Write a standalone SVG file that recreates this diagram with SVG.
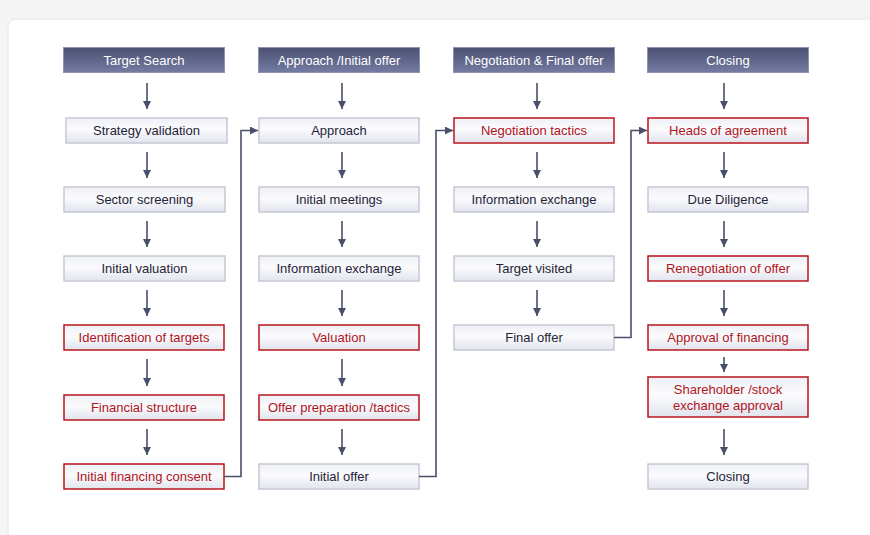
<svg xmlns="http://www.w3.org/2000/svg" width="870" height="535" viewBox="0 0 870 535">
<defs>
<linearGradient id="hg" x1="0" y1="0" x2="0" y2="1">
<stop offset="0" stop-color="#4b5072"/>
<stop offset="1" stop-color="#757ca2"/>
</linearGradient>
<linearGradient id="bg" x1="0" y1="0" x2="0" y2="1">
<stop offset="0" stop-color="#eef0f6"/>
<stop offset="0.45" stop-color="#fbfbfd"/>
<stop offset="1" stop-color="#e1e4ee"/>
</linearGradient>
<marker id="ah" viewBox="0 0 8 8" refX="8" refY="4" markerWidth="8" markerHeight="8" markerUnits="userSpaceOnUse" orient="auto">
<path d="M0,0 L8,4 L0,8 Z" fill="#4a4f69"/>
</marker>
<style>
.hdr rect{fill:url(#hg);stroke:#8c92b0;stroke-width:1}
.hdr text{fill:#ffffff;font-family:"Liberation Sans",Arial,sans-serif;font-size:13px;text-anchor:middle}
.box rect{fill:url(#bg);stroke:#c6c8d4;stroke-width:1.5}
.box text{fill:#1f2438;font-family:"Liberation Sans",Arial,sans-serif;font-size:13px;text-anchor:middle}
.red rect{stroke:#b8161e;stroke-width:1.5}
.red text{fill:#b0141c}
.conn path{fill:none;stroke:#4a4f69;stroke-width:1.6;marker-end:url(#ah)}
</style>
</defs>
<rect x="0" y="0" width="870" height="535" fill="#f5f5f5"/>
<rect x="8" y="19" width="880" height="540" rx="8" fill="#ffffff" stroke="#e6e6e6"/>

<g id="h1" class="hdr"><rect x="63.5" y="47.5" width="161" height="25"/><text x="144" y="65">Target Search</text></g>
<g id="h2" class="hdr"><rect x="258.5" y="47.5" width="161" height="25"/><text x="339" y="65">Approach /Initial offer</text></g>
<g id="h3" class="hdr"><rect x="453.5" y="47.5" width="161" height="25"/><text x="534" y="65">Negotiation &amp; Final offer</text></g>
<g id="h4" class="hdr"><rect x="647.5" y="47.5" width="161" height="25"/><text x="728" y="65">Closing</text></g>

<g id="c1r1" class="box"><rect x="66" y="118" width="161" height="25"/><text x="146.5" y="135">Strategy validation</text></g>
<g id="c1r2" class="box"><rect x="64" y="187" width="161" height="25"/><text x="144.5" y="204">Sector screening</text></g>
<g id="c1r3" class="box"><rect x="64" y="256" width="161" height="25"/><text x="144.5" y="273">Initial valuation</text></g>
<g id="c1r4" class="box red"><rect x="64" y="325" width="160" height="25"/><text x="144" y="342">Identification of targets</text></g>
<g id="c1r5" class="box red"><rect x="64" y="395" width="160" height="25"/><text x="144" y="412">Financial structure</text></g>
<g id="c1r6" class="box red"><rect x="64" y="464" width="160" height="25"/><text x="144" y="481">Initial financing consent</text></g>

<g id="c2r1" class="box"><rect x="259" y="118" width="160" height="25"/><text x="339" y="135">Approach</text></g>
<g id="c2r2" class="box"><rect x="259" y="187" width="160" height="25"/><text x="339" y="204">Initial meetings</text></g>
<g id="c2r3" class="box"><rect x="259" y="256" width="160" height="25"/><text x="339" y="273">Information exchange</text></g>
<g id="c2r4" class="box red"><rect x="259" y="325" width="160" height="25"/><text x="339" y="342">Valuation</text></g>
<g id="c2r5" class="box red"><rect x="259" y="395" width="160" height="25"/><text x="339" y="412">Offer preparation /tactics</text></g>
<g id="c2r6" class="box"><rect x="259" y="464" width="160" height="25"/><text x="339" y="481">Initial offer</text></g>

<g id="c3r1" class="box red"><rect x="454" y="118" width="160" height="25"/><text x="534" y="135">Negotiation tactics</text></g>
<g id="c3r2" class="box"><rect x="454" y="187" width="160" height="25"/><text x="534" y="204">Information exchange</text></g>
<g id="c3r3" class="box"><rect x="454" y="256" width="160" height="25"/><text x="534" y="273">Target visited</text></g>
<g id="c3r4" class="box"><rect x="454" y="325" width="160" height="25"/><text x="534" y="342">Final offer</text></g>

<g id="c4r1" class="box red"><rect x="648" y="118" width="160" height="25"/><text x="728" y="135">Heads of agreement</text></g>
<g id="c4r2" class="box"><rect x="648" y="187" width="160" height="25"/><text x="728" y="204">Due Diligence</text></g>
<g id="c4r3" class="box red"><rect x="648" y="256" width="160" height="25"/><text x="728" y="273">Renegotiation of offer</text></g>
<g id="c4r4" class="box red"><rect x="648" y="325" width="160" height="25"/><text x="728" y="342">Approval of financing</text></g>
<g id="c4r5" class="box red"><rect x="648" y="377" width="160" height="40"/><text x="728" y="394">Shareholder /stock</text><text x="728" y="410">exchange approval</text></g>
<g id="c4r6" class="box"><rect x="648" y="464" width="160" height="25"/><text x="728" y="481">Closing</text></g>

<g id="connectors" class="conn">
<path d="M147,83 V109"/>
<path d="M147,152 V178"/>
<path d="M147,221 V247"/>
<path d="M147,290 V316"/>
<path d="M147,359 V386"/>
<path d="M147,429 V455"/>
<path d="M342,83 V109"/>
<path d="M342,152 V178"/>
<path d="M342,221 V247"/>
<path d="M342,290 V316"/>
<path d="M342,359 V386"/>
<path d="M342,429 V455"/>
<path d="M537,83 V109"/>
<path d="M537,152 V178"/>
<path d="M537,221 V247"/>
<path d="M537,290 V316"/>
<path d="M724,83 V109"/>
<path d="M724,152 V178"/>
<path d="M724,221 V247"/>
<path d="M724,290 V316"/>
<path d="M724,357 V372"/>
<path d="M724,429 V455"/>
<path d="M224,476.5 H241 V130.5 H258"/>
<path d="M419,476.5 H436 V130.5 H453"/>
<path d="M614,337.5 H631 V130.5 H647"/>
</g>
</svg>
